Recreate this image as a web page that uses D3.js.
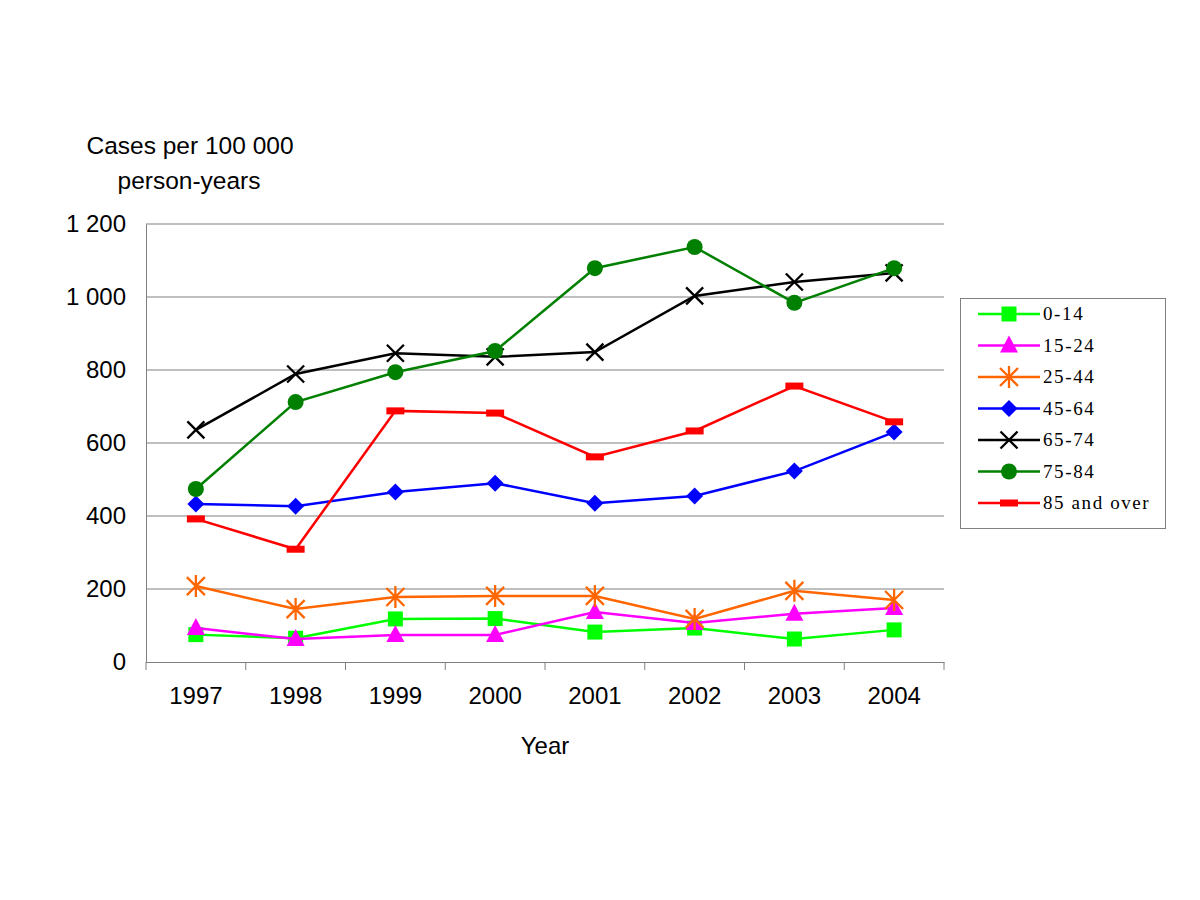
<!DOCTYPE html>
<html><head><meta charset="utf-8">
<script src="https://cdn.jsdelivr.net/npm/d3@7"></script>
<style>body{margin:0;background:#fff}svg{display:block}</style>
</head><body>
<script>
const years = ["1997","1998","1999","2000","2001","2002","2003","2004"];
const yTicks = [0,200,400,600,800,1000,1200];
const seriesNames = ["0-14","15-24","25-44","45-64","65-74","75-84","85 and over"];
const colors = ["#00ff00","#ff00ff","#ff6600","#0000ff","#000000","#008000","#ff0000"];
const markers = ["square","triangle","star","diamond","x","circle","dash"];
const v0_14  = [75,65,118,119,82,93,63,88];
const v15_24 = [93,63,74,74,137,107,132,148];
const v25_44 = [208,145,178,181,181,118,195,170];
const v45_64 = [433,427,466,490,435,455,523,630];
const v65_74 = [636,789,846,836,849,1003,1041,1066];
const v75_84 = [474,712,794,852,1079,1137,984,1079];
const v85    = [392,309,688,682,562,633,756,658];
const allValues = [v0_14,v15_24,v25_44,v45_64,v65_74,v75_84,v85];

(function(){
const W=1200,H=900;
const svg=d3.select("body").append("svg").attr("width",W).attr("height",H);
const pL=146,pR=944,pT=224,pB=662;
const x=d3.scaleBand().domain(years).range([pL,pR]);
const y=d3.scaleLinear().domain([0,1200]).range([pB,pT]);
const sans="'Liberation Sans', Arial, sans-serif";
const grid="#808080";

svg.append("g").selectAll("line").data(yTicks.filter(d=>d>0)).join("line")
  .attr("x1",pL).attr("x2",pR).attr("y1",d=>y(d)).attr("y2",d=>y(d))
  .attr("stroke",grid).attr("stroke-width",1);
const ya=svg.append("g").attr("transform",`translate(${pL},0)`)
  .call(d3.axisLeft(y).tickValues(yTicks).tickSize(0).tickPadding(20)
    .tickFormat(d=>d3.format(",")(d).replace(/,/g," ")));
ya.select(".domain").attr("stroke",grid);
ya.selectAll("text").attr("font-family",sans).attr("font-size",24).attr("fill","#000");
const xa=svg.append("g").attr("transform",`translate(0,${pB})`)
  .call(d3.axisBottom(x).tickSize(0).tickPadding(25));
xa.select(".domain").attr("stroke",grid);
xa.selectAll("text").attr("font-family",sans).attr("font-size",24).attr("fill","#000");
const bounds=years.map(d=>x(d)).concat([x(years[years.length-1])+x.bandwidth()]);
xa.selectAll("line.bt").data(bounds).join("line").attr("class","bt")
  .attr("x1",d=>d).attr("x2",d=>d).attr("y1",0).attr("y2",8).attr("stroke",grid);

svg.append("text").attr("x",190).attr("y",154).attr("text-anchor","middle")
  .attr("font-family",sans).attr("font-size",24.5).text("Cases per 100 000");
svg.append("text").attr("x",189).attr("y",189).attr("text-anchor","middle")
  .attr("font-family",sans).attr("font-size",24.5).text("person-years");
svg.append("text").attr("x",545).attr("y",754).attr("text-anchor","middle")
  .attr("font-family",sans).attr("font-size",24).text("Year");

function drawMarker(g,type,color){
  if(type==="square") g.append("rect").attr("x",-7.5).attr("y",-7.5).attr("width",15).attr("height",15).attr("fill",color);
  else if(type==="triangle") g.append("path").attr("d","M0,-10L9,7L-9,7Z").attr("fill",color);
  else if(type==="diamond") g.append("path").attr("d","M0,-8.5L8.5,0L0,8.5L-8.5,0Z").attr("fill",color);
  else if(type==="circle") g.append("circle").attr("r",8).attr("fill",color);
  else if(type==="dash") g.append("rect").attr("x",-9).attr("y",-3.5).attr("width",18).attr("height",7).attr("fill",color);
  else if(type==="x") g.append("path").attr("d","M-8.5,-8.5L8.5,8.5M-8.5,8.5L8.5,-8.5").attr("stroke",color).attr("stroke-width",2.3);
  else if(type==="star") g.append("path").attr("d","M-9,-9L9,9M-9,9L9,-9M0,-11L0,11").attr("stroke",color).attr("stroke-width",2.3);
}

const line=d3.line().x((d,i)=>x(years[i])+x.bandwidth()/2).y(d=>y(d));
allValues.forEach((vals,si)=>{
  const g=svg.append("g");
  g.append("path").attr("d",line(vals)).attr("fill","none").attr("stroke",colors[si]).attr("stroke-width",2.5);
  vals.forEach((v,i)=>{
    const m=g.append("g").attr("transform",`translate(${x(years[i])+x.bandwidth()/2},${y(v)})`);
    drawMarker(m,markers[si],colors[si]);
  });
});

const lg=svg.append("g");
lg.append("rect").attr("x",960.5).attr("y",298.5).attr("width",205).attr("height",230)
  .attr("fill","#fff").attr("stroke",grid).attr("stroke-width",1);
seriesNames.forEach((n,i)=>{
  const cy=314+i*31.5;
  lg.append("line").attr("x1",978).attr("x2",1040).attr("y1",cy).attr("y2",cy).attr("stroke",colors[i]).attr("stroke-width",2.5);
  const m=lg.append("g").attr("transform",`translate(1009,${cy})`);
  drawMarker(m,markers[i],colors[i]);
  lg.append("text").attr("x",1043).attr("y",cy+6).attr("font-family","'Liberation Serif', 'Times New Roman', serif")
    .attr("font-size",19).attr("letter-spacing",1.6).text(n);
});
})();
</script>
</body></html>
